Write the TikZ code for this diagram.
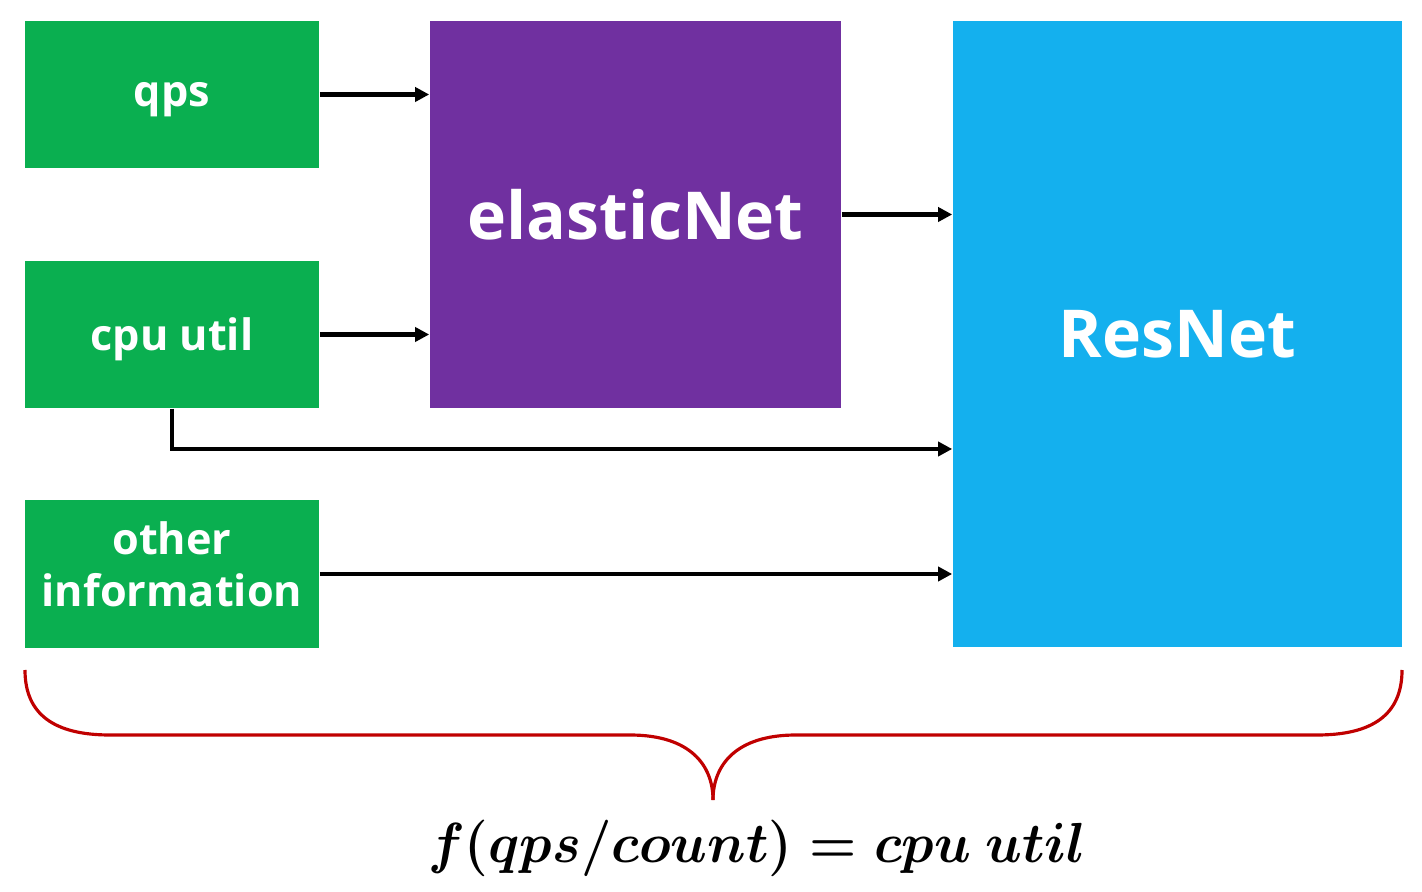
\documentclass[tikz,border=0pt]{standalone}
\usepackage{amsmath, amssymb}
\usepackage{fontspec}
\setmainfont{Open Sans}
\usetikzlibrary{arrows.meta}
\definecolor{boxgreen}{HTML}{0AAF50}
\definecolor{boxpurple}{HTML}{7030A0}
\definecolor{boxblue}{HTML}{14B0EE}
\definecolor{bracered}{HTML}{C00000}
\tikzset{
  inbox/.style={fill=boxgreen, text=white, font=\bfseries\fontsize{12.3}{14.8}\selectfont, minimum width=2.94cm, minimum height=1.47cm, align=center, inner sep=0pt},
  netbox/.style={text=white, font=\bfseries\fontsize{18.8}{22}\selectfont, inner sep=0pt},
  flow/.style={-{Triangle[length=4pt,width=4pt]}, line width=1.2pt},
}
\begin{document}
\begin{tikzpicture}[x=0.01cm, y=-0.01cm]
        \useasboundingbox (0,0) rectangle (1422,892);
        % inputs
        \node[inbox, text depth=0pt] (qps) at (172, 94.5) {qps};
        \node[inbox, text depth=0pt] (cpu) at (172, 334.5) {cpu util};
        \node[inbox, text width=2.94cm, text depth=20.5pt] (other) at (172, 574) {other\\information};
        % networks
        \node[netbox, fill=boxpurple, minimum width=4.11cm, minimum height=3.87cm] (elastic) at (635.5, 214.5) {elasticNet};
        \node[netbox, fill=boxblue, minimum width=4.49cm, minimum height=6.26cm] (resnet) at (1177.5, 334) {ResNet};

        \coordinate (bend) at (172, 449);

        \draw[flow] (qps) -- (qps -| elastic.west);
        \draw[flow] (cpu) -- (cpu -| elastic.west);
        \draw[flow] (elastic) -- (elastic -| resnet.west);
        \draw[flow] (cpu.south) -- (bend) -- (bend -| resnet.west);
        \draw[flow] (other) -- (other -| resnet.west);

        % brace
        \coordinate (tip) at (713, 800);
        \draw[bracered, line width=0.9pt] (25, 670) .. controls (25, 715) and (55, 735) .. (110, 735) -- (630, 735) .. controls (690, 735) and (713, 765) .. (tip);
        \draw[bracered, line width=0.9pt] (1402, 670) .. controls (1402, 715) and (1372, 735) .. (1317, 735) -- (796, 735) .. controls (736, 735) and (713, 765) .. (tip);
        \node (formula) at (757, 848) {\scalebox{0.89}[0.93]{\fontsize{17.28}{19}\selectfont$\boldsymbol{f(qps/count) = cpu\ util}$}};
\end{tikzpicture}
\end{document}
